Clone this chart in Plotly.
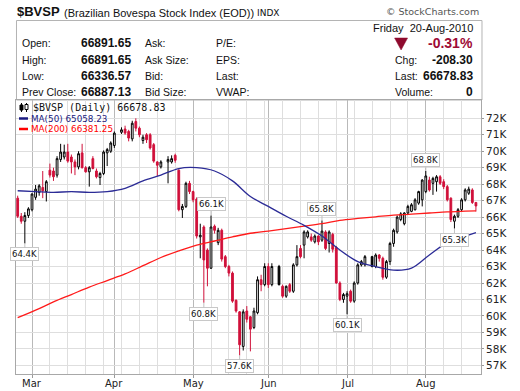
import numpy as np
import pandas as pd
import plotly.graph_objects as go

# ---------------- data ----------------
weekdays = pd.bdate_range("2010-02-23", "2010-08-20")
holidays = ["2010-04-02", "2010-04-21", "2010-06-03", "2010-07-09"]
black_filled_days = ["2010-06-04", "2010-07-12"]

# values in thousands of index points (None = market closed)
opens = [67.15, 66.05, 65.75, 66.10, 66.45, 67.20, 67.50, 67.80, 67.55, 68.85,
         68.80, 68.55, 69.50, 69.65, 69.95, 69.65, 69.35, 69.05, 69.90, 69.00,
         68.75, 69.55, 68.80, 68.40, 68.65, 69.90, 70.00, 70.35, None, 71.15,
         71.35, 71.20, 70.75, 71.80, 71.40, 70.65, 71.00, 71.00, 70.40, 69.35,
         69.05, None, 69.35, 69.35, 69.75, 68.85, 66.45, 66.65, 68.05, 67.55,
         67.10, 64.80, 65.40, 64.00, 62.90, 65.45, 64.45, 65.20, 63.60, 63.00,
         62.60, 60.95, 60.25, 58.15, 60.30, 59.95, 59.30, 60.20, 62.20, 61.90,
         63.00, 61.90, None, 63.00, 61.80, 61.20, 61.90, 61.50, 63.10, 64.10,
         64.30, 64.80, 64.80, 64.50, 64.85, 64.60, 65.10, 64.40, 64.95, 64.15,
         62.00, 61.00, 61.20, 61.50, 60.90, 62.00, 63.10, 63.10, None, 63.60,
         63.00, 63.70, 63.50, 62.35, 63.30, 64.40, 65.10, 65.85, 65.60, 66.25,
         66.35, 66.45, 66.85, 67.05, 67.55, 68.25, 68.05, 68.15, 68.45, 68.15,
         67.85, 67.15, 65.75, 66.05, 66.45, 67.05, 67.45, 67.65, 66.89165]
highs = [67.30, 66.25, 66.30, 66.60, 67.45, 67.95, 68.00, 68.80, 68.25, 69.25,
         69.00, 69.70, 70.45, 70.40, 70.45, 69.80, 69.50, 70.00, 70.45, 69.10,
         69.10, 69.70, 68.95, 68.75, 70.05, 70.20, 70.60, 71.20, None, 71.45,
         71.55, 71.30, 71.85, 72.00, 71.50, 71.00, 71.10, 71.10, 70.50, 69.40,
         69.45, None, 69.70, 69.75, 69.85, 68.90, 66.80, 68.15, 68.20, 67.60,
         67.20, 65.60, 65.50, 64.10, 66.10, 65.55, 65.35, 65.30, 63.70, 63.10,
         62.70, 61.00, 60.30, 60.40, 60.60, 60.00, 60.50, 62.40, 62.50, 63.20,
         63.20, 63.20, None, 63.10, 61.90, 61.85, 62.00, 63.20, 64.30, 64.30,
         65.20, 65.20, 65.00, 64.95, 64.90, 65.80, 65.20, 65.20, 65.05, 64.25,
         62.10, 61.40, 61.50, 61.60, 62.10, 63.20, 63.40, 63.70, None, 63.65,
         63.80, 63.75, 63.60, 63.40, 64.50, 65.30, 66.10, 66.30, 66.30, 66.75,
         66.85, 67.15, 67.60, 68.30, 68.80, 68.45, 68.45, 68.55, 68.55, 68.30,
         67.95, 67.20, 66.15, 66.55, 67.15, 67.75, 67.85, 67.75, 66.89165]
lows = [65.95, 65.60, 64.40, 65.95, 66.35, 67.05, 67.30, 67.15, 66.95, 68.40,
        68.20, 68.40, 69.35, 69.50, 69.30, 68.65, 68.55, 68.90, 68.95, 68.70,
        67.85, 68.90, 68.35, 67.95, 68.55, 69.10, 69.90, 70.20, None, 71.05,
        71.00, 70.60, 70.60, 71.20, 70.85, 70.45, 70.50, 70.10, 69.30, 68.50,
        68.95, None, 68.05, 69.25, 69.30, 66.35, 65.95, 66.55, 67.40, 66.90,
        64.70, 63.50, 60.80, 61.80, 62.85, 65.00, 64.30, 63.30, 62.90, 62.40,
        60.80, 60.20, 57.60, 57.90, 59.60, 57.85, 59.20, 60.10, 61.50, 61.80,
        61.70, 61.80, None, 61.85, 61.10, 61.10, 61.40, 61.40, 63.00, 63.50,
        63.50, 64.70, 64.50, 64.40, 64.30, 64.50, 64.00, 63.85, 63.85, 61.95,
        60.90, 60.80, 60.10, 60.80, 60.80, 61.90, 63.00, 63.00, None, 62.95,
        62.90, 63.30, 62.20, 62.25, 63.10, 64.20, 65.00, 65.75, 65.50, 66.15,
        66.30, 66.40, 66.75, 66.65, 67.45, 67.55, 67.35, 67.55, 67.95, 67.70,
        66.95, 65.70, 65.30, 65.95, 66.35, 66.95, 67.35, 66.80, 66.33657]
closes = [66.05, 65.75, 66.10, 66.50, 67.40, 67.70, 67.90, 67.60, 68.15, 68.55,
          68.45, 69.55, 69.95, 69.95, 69.40, 69.35, 69.05, 69.85, 69.00, 68.75,
          69.00, 68.95, 68.45, 68.65, 69.95, 70.10, 70.50, 71.10, None, 71.30,
          71.10, 70.80, 71.70, 71.40, 71.00, 70.85, 70.70, 70.20, 69.40, 69.15,
          69.35, None, 69.50, 69.55, 69.45, 66.45, 66.65, 68.05, 67.55, 67.05,
          64.85, 64.90, 63.40, 62.90, 65.40, 65.20, 65.20, 63.45, 63.00, 62.60,
          60.90, 60.30, 58.25, 60.25, 59.80, 59.20, 60.30, 62.20, 61.90, 63.00,
          61.90, 63.00, None, 61.90, 61.20, 61.80, 61.50, 63.10, 63.60, 63.60,
          65.10, 65.10, 64.60, 64.85, 64.50, 65.15, 64.10, 65.10, 64.05, 62.00,
          61.00, 61.30, 61.35, 60.90, 62.00, 63.10, 63.30, 63.60, None, 63.00,
          63.70, 63.50, 62.35, 63.30, 64.40, 65.20, 66.00, 66.20, 66.25, 66.65,
          66.75, 67.05, 67.55, 68.25, 68.50, 67.65, 68.35, 68.45, 68.05, 67.85,
          67.05, 65.85, 66.05, 66.45, 67.05, 67.65, 67.70, 66.88713, 66.67883]

# moving averages read weekly (trading-day offsets from first day)
ma_offsets = [0, 5, 10, 15, 20, 25, 30, 35, 40, 45, 50, 55, 60, 65, 70, 75,
              80, 85, 90, 95, 100, 105, 110, 115, 120, 125, 128]
ma50 = [67.60, 67.55, 67.50, 67.55, 67.50, 67.55, 67.75, 68.20, 68.55, 68.95,
        69.00, 68.80, 68.20, 67.25, 66.65, 66.05, 65.50, 64.85, 64.00, 63.30,
        63.00, 62.78, 62.90, 63.70, 64.45, 64.85, 65.05823]
ma200 = [59.90, 60.35, 60.85, 61.30, 61.75, 62.15, 62.55, 63.05, 63.55, 63.95,
         64.30, 64.55, 64.80, 65.02, 65.15, 65.30, 65.45, 65.60, 65.80, 65.92,
         66.02, 66.12, 66.18, 66.25, 66.32, 66.36, 66.38125]

# peak / trough labels: (date, 'high' or 'low')
extreme_labels = [("2010-02-25", "low"), ("2010-05-06", "low"), ("2010-05-10", "high"),
                  ("2010-05-20", "low"), ("2010-06-22", "high"), ("2010-07-01", "low"),
                  ("2010-08-02", "high"), ("2010-08-12", "low")]

month_names = ["Mar", "Apr", "May", "Jun", "Jul", "Aug"]
price_ticks = list(range(57, 73))

# ---------------- geometry helpers ----------------
L, R, T, B = 16, 481.5, 100, 374
W, H = 520, 391


def xp(px):
    return (px - L) / (R - L)


def yp(py):
    return (B - py) / (B - T)


dates = [d.strftime("%Y-%m-%d") for d in weekdays]
xidx = np.arange(len(dates))
valid = [o is not None for o in opens]
blk = [d in black_filled_days for d in dates]

sel_main = [i for i in xidx if valid[i] and not blk[i]]
sel_blk = [i for i in xidx if valid[i] and blk[i]]

fig = go.Figure()

RED = "#d0103a"
fig.add_trace(go.Candlestick(
    x=[xidx[i] for i in sel_main],
    open=[opens[i] for i in sel_main], high=[highs[i] for i in sel_main],
    low=[lows[i] for i in sel_main], close=[closes[i] for i in sel_main],
    increasing=dict(line=dict(color="#000000", width=1), fillcolor="#ffffff"),
    decreasing=dict(line=dict(color=RED, width=1), fillcolor=RED),
    whiskerwidth=0, showlegend=False, hoverinfo="skip"))
fig.add_trace(go.Candlestick(
    x=[xidx[i] for i in sel_blk],
    open=[opens[i] for i in sel_blk], high=[highs[i] for i in sel_blk],
    low=[lows[i] for i in sel_blk], close=[closes[i] for i in sel_blk],
    increasing=dict(line=dict(color="#000000", width=1), fillcolor="#ffffff"),
    decreasing=dict(line=dict(color="#000000", width=1), fillcolor="#000000"),
    whiskerwidth=0, showlegend=False, hoverinfo="skip"))

fig.add_trace(go.Scatter(x=ma_offsets, y=ma200, mode="lines",
                         line=dict(color="#ff1a1a", width=1.3, shape="spline"),
                         showlegend=False, hoverinfo="skip"))
fig.add_trace(go.Scatter(x=ma_offsets, y=ma50, mode="lines",
                         line=dict(color="#2b2b96", width=1.3, shape="spline"),
                         showlegend=False, hoverinfo="skip"))

# ticks
months = weekdays.month
month_idx = [int(i) for i in xidx if i > 0 and months[i] != months[i - 1]]
monday_idx = [int(i) for i in xidx if weekdays[i].dayofweek == 0]

# extreme labels
anns = []
for d, kind in extreme_labels:
    i = dates.index(d)
    v = highs[i] if kind == "high" else lows[i]
    anns.append(dict(x=int(i), y=v, xref="x", yref="y", text=f"{v:.1f}K",
                     showarrow=True, arrowhead=0, arrowwidth=1, arrowcolor="#c0c0c0",
                     ax=0, ay=(-11 if kind == "high" else 11), standoff=0,
                     bgcolor="#ffffff", bordercolor="#c8c8c8", borderwidth=1, borderpad=1,
                     font=dict(family="DejaVu Sans", size=8.5, color="#111111")))

# month labels under the axis
for mi, name in zip(month_idx, month_names):
    anns.append(dict(x=mi, y=(B - 383) / (B - T), xref="x", yref="paper", text=name,
                     showarrow=False, xanchor="center", yanchor="middle",
                     font=dict(family="DejaVu Sans", size=10, color="#222222")))


def txt(t, x, y, size=11, anchor="left", bold=False, color="#111111", family="Liberation Sans"):
    if bold:
        t = f"<b>{t}</b>"
    anns.append(dict(x=xp(x), y=yp(y), xref="paper", yref="paper", text=t, showarrow=False,
                     xanchor=anchor, yanchor="middle",
                     font=dict(family=family, size=size, color=color)))


# title line
txt("$BVSP", 15, 12, size=13, bold=True)
txt("(Brazilian Bovespa Stock Index (EOD))", 62, 12.5, size=11)
txt("INDX", 255, 12.5, size=9, family="DejaVu Sans")
txt("© StockCharts.com", 482, 12, size=9.5, anchor="right", color="#555555", family="DejaVu Sans")

# quote box
txt("Friday&nbsp;&nbsp;20-Aug-2010", 475, 28, size=11, anchor="right")
rows_y = [43, 59.5, 76, 92]
left_labels = ["Open:", "High:", "Low:", "Prev Close:"]
left_vals = ["66891.65", "66891.65", "66336.57", "66887.13"]
mid_labels = ["Ask:", "Ask Size:", "Bid:", "Bid Size:"]
mid2_labels = ["P/E:", "EPS:", "Last:", "VWAP:"]
for yy, a, b, c, d in zip(rows_y, left_labels, left_vals, mid_labels, mid2_labels):
    txt(a, 20, yy, size=10.5)
    txt(b, 133, yy, size=12, anchor="right", bold=True)
    txt(c, 143, yy, size=10.5)
    txt(d, 214, yy, size=10.5)
txt("-0.31%", 475, 43, size=14, anchor="right", bold=True, color="#9e0b36")
txt("Chg:", 393, 59.5, size=10.5)
txt("-208.30", 475, 59.5, size=12, anchor="right", bold=True)
txt("Last:", 393, 76, size=10.5)
txt("66678.83", 475, 76, size=12, anchor="right", bold=True)
txt("Volume:", 393, 92, size=10.5)
txt("0", 475, 92, size=12, anchor="right", bold=True)

# legend
txt("$BVSP (Daily) 66678.83", 31, 107.5, size=10, family="DejaVu Sans Mono")
txt("MA(50) 65058.23", 29, 118.5, size=8.8, color="#1a1a80", family="DejaVu Sans")
txt("MA(200) 66381.25", 29, 129, size=8.8, color="#ff0000", family="DejaVu Sans")

shapes = [
    dict(type="rect", xref="paper", yref="paper", x0=xp(16.5), x1=xp(482.5), y0=yp(100), y1=yp(20.5),
         line=dict(color="#b4b4b4", width=1), fillcolor="rgba(0,0,0,0)", layer="below"),
    dict(type="path", xref="paper", yref="paper",
         path=f"M {xp(395)} {yp(38)} L {xp(408)} {yp(38)} L {xp(401.5)} {yp(50)} Z",
         fillcolor="#8e0a2e", line=dict(color="#8e0a2e", width=0.5)),
    dict(type="line", xref="paper", yref="paper", x0=xp(19), x1=xp(28), y0=yp(118.5), y1=yp(118.5),
         line=dict(color="#1a1a80", width=2.5)),
    dict(type="line", xref="paper", yref="paper", x0=xp(19), x1=xp(28), y0=yp(129), y1=yp(129),
         line=dict(color="#ff0000", width=2.5)),
    dict(type="line", xref="paper", yref="paper", x0=xp(21.5), x1=xp(21.5), y0=yp(103), y1=yp(112),
         line=dict(color="#000", width=1)),
    dict(type="rect", xref="paper", yref="paper", x0=xp(20), x1=xp(23), y0=yp(105), y1=yp(110),
         fillcolor="#000", line=dict(color="#000", width=1)),
    dict(type="line", xref="paper", yref="paper", x0=xp(26.5), x1=xp(26.5), y0=yp(103), y1=yp(112),
         line=dict(color="#000", width=1)),
    dict(type="rect", xref="paper", yref="paper", x0=xp(25), x1=xp(28), y0=yp(104.5), y1=yp(109.5),
         fillcolor="#fff", line=dict(color="#000", width=1)),
]

fig.update_layout(
    width=W, height=H,
    margin=dict(l=L, r=W - R, t=T, b=H - B, pad=0, autoexpand=False),
    paper_bgcolor="#ffffff", plot_bgcolor="#ffffff",
    showlegend=False,
    annotations=anns, shapes=shapes,
    xaxis=dict(
        automargin=False,
        range=[-0.47, 129.42], tickmode="array", tickvals=month_idx, ticktext=month_names,
        showticklabels=False,
        showgrid=True, gridcolor="#b9b9b9", gridwidth=1, zeroline=False,
        ticks="outside", ticklen=3, tickcolor="#999999",
        showline=True, mirror=True, linecolor="#a8a8a8", linewidth=1,
        minor=dict(tickmode="array", tickvals=monday_idx, showgrid=True, gridcolor="#dedede",
                   gridwidth=1, ticks=""),
        rangeslider=dict(visible=False), fixedrange=True),
    yaxis=dict(
        automargin=False,
        side="right", range=[56.476, 73.11], tickmode="array", tickvals=price_ticks,
        ticktext=[f"{v}K" for v in price_ticks],
        showgrid=True, gridcolor="#dedede", gridwidth=1, zeroline=False,
        ticks="outside", ticklen=2, tickcolor="#999999",
        showline=True, mirror=True, linecolor="#a8a8a8", linewidth=1,
        tickfont=dict(family="DejaVu Sans", size=10.5, color="#222222"), fixedrange=True),
)

fig.write_html("out.html", config={"displayModeBar": False},
               post_script="document.body.style.margin='0';document.body.style.overflow='hidden';")
